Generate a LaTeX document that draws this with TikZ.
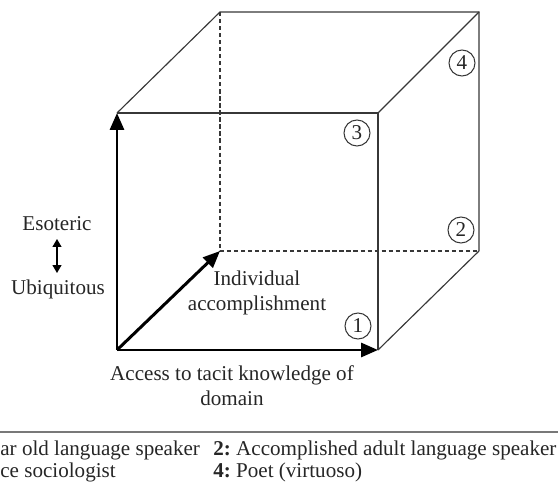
\documentclass[tikz,border=0pt]{standalone}
\usepackage{fontspec}
\setmainfont{Liberation Serif}
\usetikzlibrary{arrows.meta,positioning}
\definecolor{edgegray}{RGB}{55,55,55}
\definecolor{rulegray}{RGB}{120,120,120}

\begin{document}
\begin{tikzpicture}[
        x=0.02cm, y=-0.02cm,
        edge/.style={draw=edgegray, line width=0.65pt},
        hidden/.style={draw=edgegray, line width=0.65pt, dash pattern=on 2.4pt off 1.6pt},
        axis/.style={draw=black, line width=1.7pt, -{Triangle[length=0.34cm,width=0.28cm]}},
        updown/.style={draw=black, line width=0.7pt, {Triangle[length=0.16cm,width=0.18cm]}-{Triangle[length=0.16cm,width=0.18cm]}},
        stage/.style={
            circle, draw=edgegray, line width=0.6pt, minimum size=0.52cm, inner sep=0pt,
            font=\fontsize{12}{14}\selectfont, text=black!85
        },
        lbl/.style={
            font=\fontsize{12}{14.2}\selectfont, align=center, text=black!85, inner sep=0pt
        }
    ]

    \useasboundingbox (0,0) rectangle (558,486);

    % Cube corners
    \coordinate (fbl) at (117,350);
    \coordinate (fbr) at (378,350);
    \coordinate (ftl) at (117,113);
    \coordinate (ftr) at (378,113);
    \coordinate (bbl) at (220,251);
    \coordinate (bbr) at (479,251);
    \coordinate (btl) at (220,12);
    \coordinate (btr) at (479,12);

    % Hidden edges
    \draw[hidden] (btl) -- (bbl) -- (bbr);

    % Visible edges
    \draw[edge] (ftl) -- (ftr) -- (fbr);
    \draw[edge] (ftl) -- (btl) -- (btr) -- (bbr);
    \draw[edge] (ftr) -- (btr);
    \draw[edge] (fbr) -- (bbr);

    % Axes
    \draw[axis] (fbl) -- (ftl);
    \draw[axis] (fbl) -- (fbr);
    \draw[axis] (fbl) -- (bbl);

    % Numbered corners
    \node[stage] (one) at (358,326) {1};
    \node[stage] (two) at (461,230) {2};
    \node[stage] (three) at (357,133) {3};
    \node[stage] (four) at (462,63) {4};

    % Axis labels
    \node[lbl] (access) at (232,386) {Access to tacit knowledge of\\domain};
    \node[lbl] (indiv) at (257,293) {Individual\\accomplishment};
    \node[lbl] (eso) at (57,224) {Esoteric};
    \node[lbl] (ubi) at (58,289) {Ubiquitous};
    \coordinate (esotip) at (57,239);
    \coordinate (ubitip) at (57,273);
    \draw[updown] (esotip) -- (ubitip);

    % Key
    \draw[rulegray, line width=1.2pt] (0,432) -- (558,432);
    \node[lbl, anchor=base west] (key1) at (0,455) {ar old language speaker};
    \node[lbl, anchor=base west] (key2) at (213,455) {\textbf{2:}\ Accomplished adult language speaker};
    \node[lbl, anchor=base west] (key3) at (0,477) {ce sociologist};
    \node[lbl, anchor=base west] (key4) at (213,477) {\textbf{4:}\ Poet (virtuoso)};

\end{tikzpicture}
\end{document}
